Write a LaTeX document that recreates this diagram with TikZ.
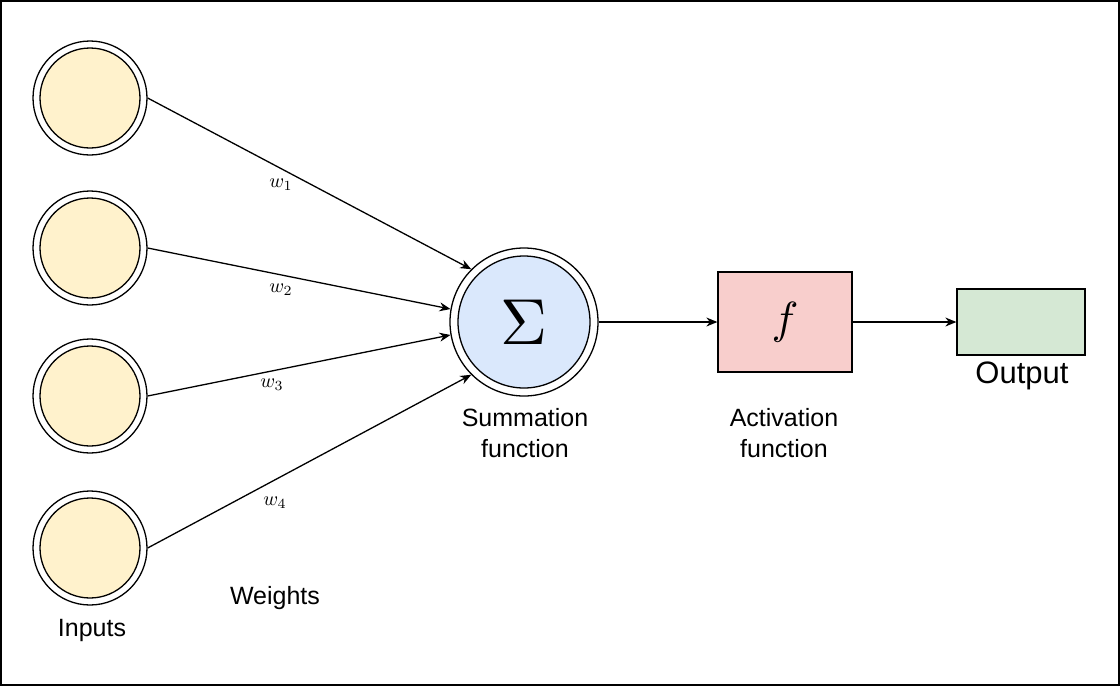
\documentclass[tikz,border=0pt]{standalone}
\usepackage{graphicx}
\usepackage{fontspec}
\setmainfont{Liberation Sans}
\usetikzlibrary{arrows.meta}
\definecolor{inY}{HTML}{FFF2CC}
\definecolor{sumB}{HTML}{DAE8FC}
\definecolor{actR}{HTML}{F8CECC}
\definecolor{outG}{HTML}{D5E8D4}
\begin{document}
\begin{tikzpicture}[x=1pt,y=-1pt,
  inp/.style={circle,draw,line width=1.3pt,minimum size=114pt,inner sep=0pt},
  inpin/.style={circle,draw,line width=1.3pt,fill=inY,minimum size=100pt,inner sep=0pt},
  conn/.style={line width=1.3pt,-{Stealth[length=11pt,width=9pt]}},
  lbl/.style={font=\fontsize{25}{31}\selectfont,align=center},
  wl/.style={}]
\useasboundingbox (0,0) rectangle (1120,686);
\draw[line width=1.5pt] (1,1) rectangle (1119,685);
\foreach \i/\y in {1/98,2/248,3/396,4/548}{
  \node[inp] (in\i) at (90,\y) {};
  \node[inpin] (ii\i) at (90,\y) {};
}
\node[circle,draw,line width=1.3pt,minimum size=148pt,inner sep=0pt] (sum) at (524,322) {};
\node[circle,draw,line width=1.3pt,fill=sumB,minimum size=132pt,inner sep=0pt] (sumin) at (524,322) {\scalebox{6.5}{$\Sigma$}};
\node[draw,line width=1.3pt,fill=actR,minimum width=134pt,minimum height=100pt] (f) at (785,322) {\scalebox{4.5}{$f$}};
\node[draw,line width=1.3pt,fill=outG,minimum width=128pt,minimum height=66pt] (out) at (1021,322) {};
\draw[conn] (in1.east) -- (sum.135);
\draw[conn] (in2.east) -- (sum.170);
\draw[conn] (in3.east) -- (sum.190);
\draw[conn] (in4.east) -- (sum.225);
\draw[conn] (sum.east) -- (f.west);
\draw[conn] (f.east) -- (out.west);
\node[wl] (w1) at (281,185) {\scalebox{2}{$w_1$}};
\node[wl] (w2) at (281,290) {\scalebox{2}{$w_2$}};
\node[wl] (w3) at (272,385) {\scalebox{2}{$w_3$}};
\node[wl] (w4) at (275,503) {\scalebox{2}{$w_4$}};
\node[lbl] (tin) at (92,630) {Inputs};
\node[lbl] (tw) at (275,598) {Weights};
\node[lbl] (ts) at (525,433) {Summation\\function};
\node[lbl] (ta) at (784,433) {Activation\\function};
\node[lbl,font=\fontsize{31}{36}\selectfont] (to) at (1022,376) {Output};
\end{tikzpicture}
\end{document}
